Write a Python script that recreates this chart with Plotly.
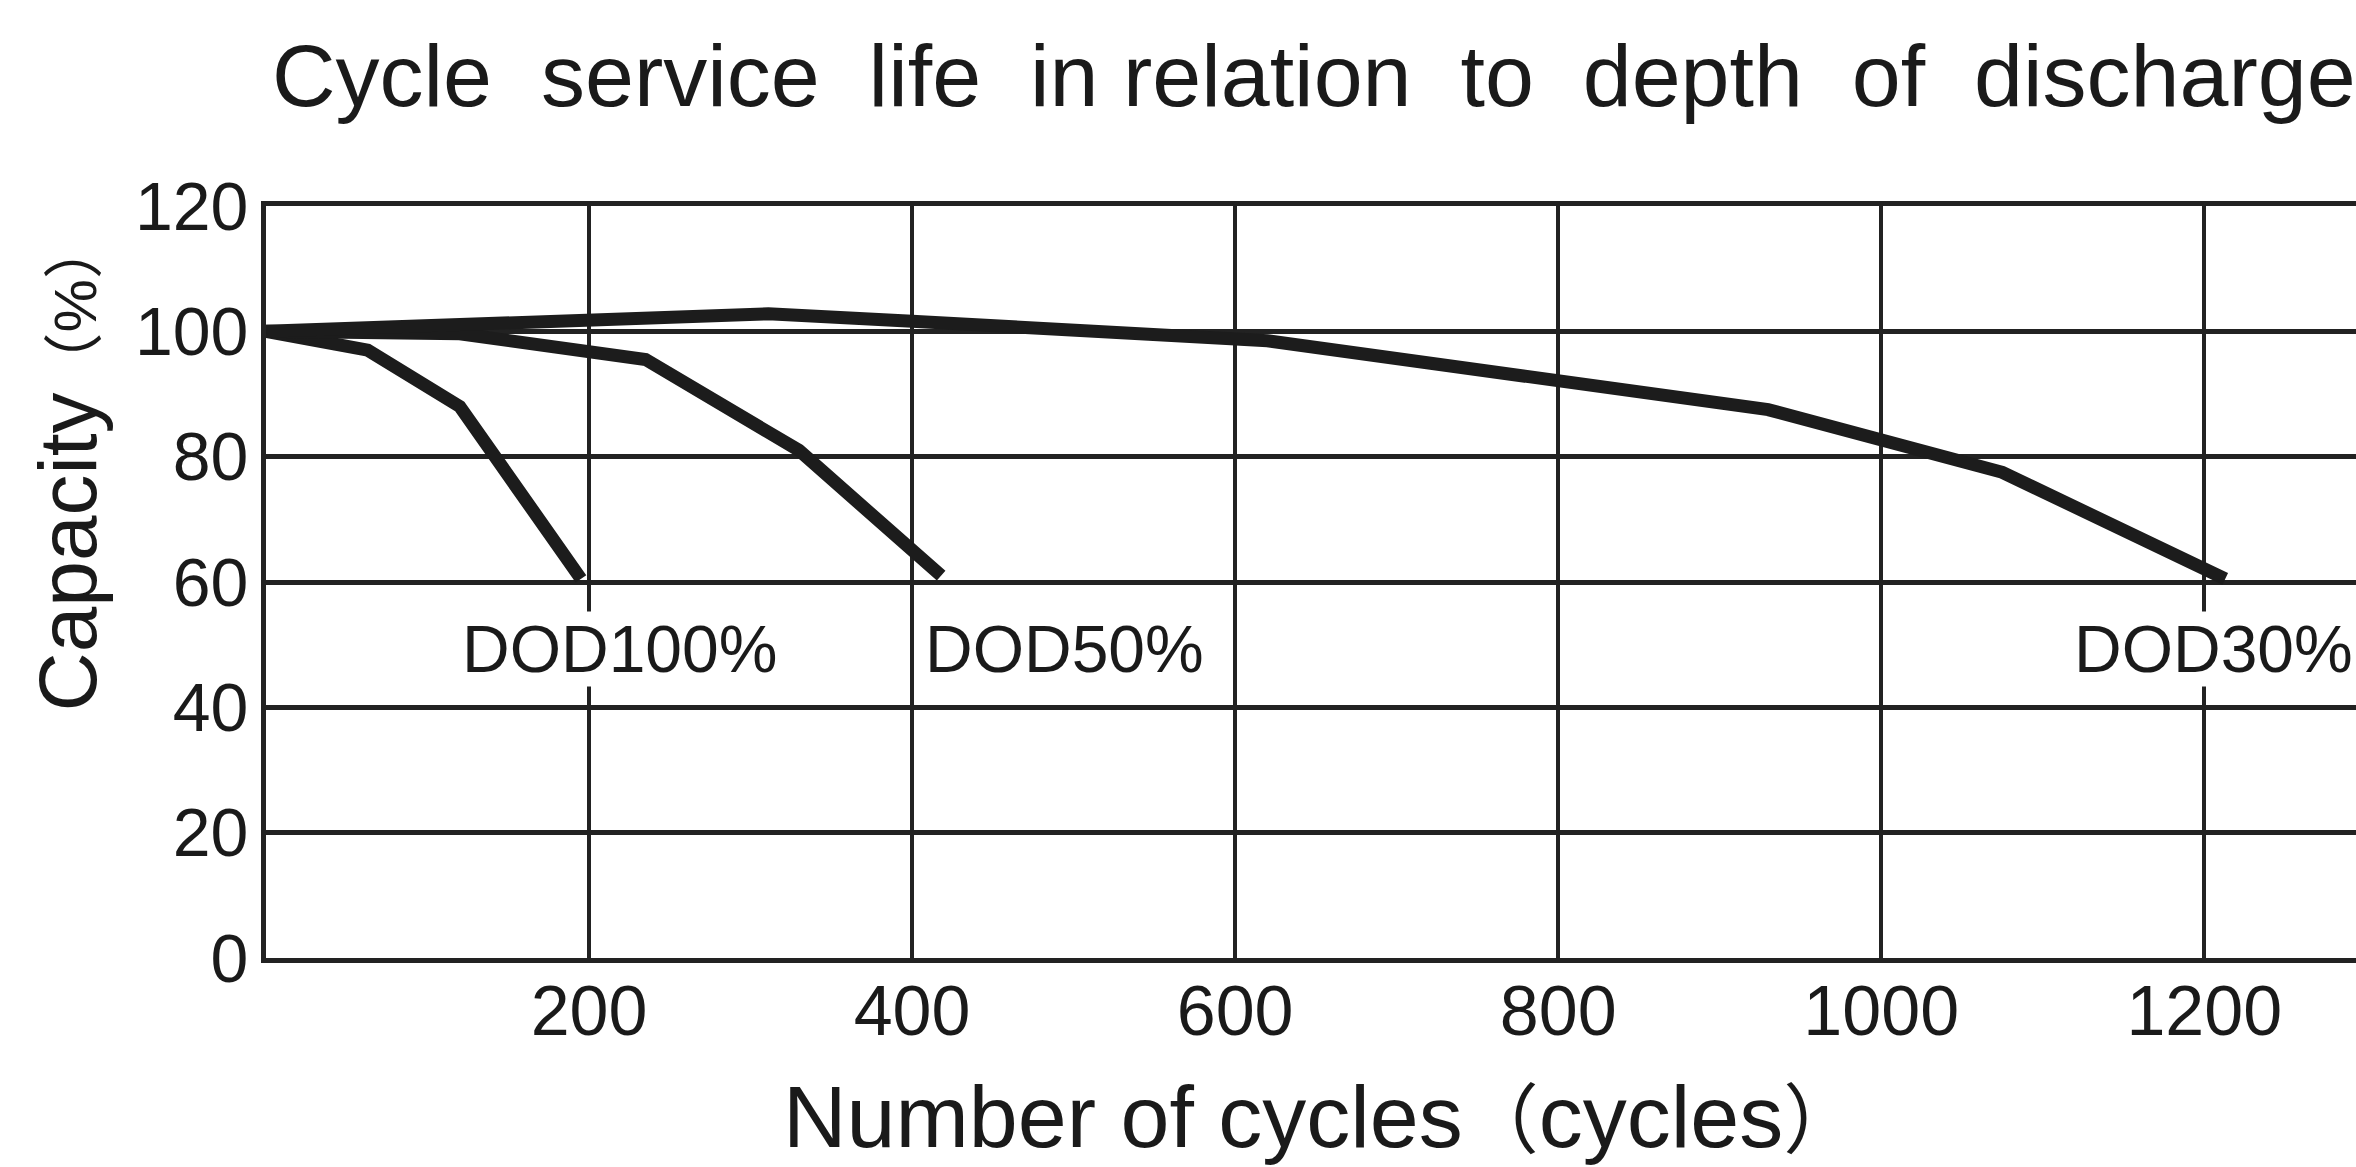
import plotly.graph_objects as go

# ---- data ----
dod100_cycles = [0, 63, 120, 195]
dod100_capacity = [100, 97, 88, 60.5]

dod50_cycles = [0, 120, 235, 330, 418]
dod50_capacity = [100, 99.6, 95.5, 81, 61]

dod30_cycles = [0, 311, 400, 620, 930, 1075, 1213]
dod30_capacity = [100, 102.8, 101.6, 98.5, 87.5, 77.5, 60.5]

x_ticks = [200, 400, 600, 800, 1000, 1200]
y_ticks = [0, 20, 40, 60, 80, 100, 120]

labels = ["DOD100%", "DOD50%", "DOD30%"]
label_x = [218.6, 494.1, 1205.5]
label_y = [49.3, 49.3, 49.3]

title_text = "Cycle\u00a0\u00a0service\u00a0\u00a0life\u00a0\u00a0in relation\u00a0\u00a0to\u00a0\u00a0depth\u00a0\u00a0of\u00a0\u00a0discharge"
x_title = "Number of cycles<span style='font-size:76px'>（</span>cycles<span style='font-size:76px'>）</span>"
y_title = "Capacity<span style='font-size:60px'>（%）</span>"

# ---- layout geometry (page pixels) ----
W, H = 2356, 1167
ML, MT, MB, MR = 266, 206, 209, 0
PW, PH = W - ML - MR, H - MT - MB
X_MAX = PW / 1.6152

def paper_x(fx):
    return (fx - ML) / PW

def paper_y(fy):
    return (H - MB - fy) / PH

FONT = "Liberation Sans, Arial, Helvetica, Noto Sans CJK SC, sans-serif"
INK = "#1a1a1a"
LINE = "#222222"

fig = go.Figure()
for xs, ys in [(dod100_cycles, dod100_capacity),
               (dod50_cycles, dod50_capacity),
               (dod30_cycles, dod30_capacity)]:
    fig.add_trace(go.Scatter(x=xs, y=ys, mode="lines",
                             line=dict(color="#1c1c1c", width=13),
                             showlegend=False, hoverinfo="skip"))

fig.update_xaxes(range=[0, X_MAX], tickvals=x_ticks, ticktext=[str(v) for v in x_ticks],
                 showgrid=True, gridcolor=LINE, gridwidth=3.5,
                 showline=True, linecolor=LINE, linewidth=5, mirror=True,
                 zeroline=False, ticks="", tickfont=dict(size=70, color=INK, family=FONT),
                 ticklabelstandoff=-12)
fig.update_yaxes(range=[0, 120], tickvals=y_ticks, ticktext=[str(v) for v in y_ticks],
                 showgrid=True, gridcolor=LINE, gridwidth=5,
                 showline=True, linecolor=LINE, linewidth=5, mirror=False,
                 zeroline=False, ticks="", tickfont=dict(size=68, color=INK, family=FONT),
                 ticklabelstandoff=-1)

annotations = []
for t, lx, ly in zip(labels, label_x, label_y):
    annotations.append(dict(x=lx, y=ly, xref="x", yref="y", text=t, showarrow=False,
                            font=dict(size=66, color=INK, family=FONT),
                            bgcolor="white", borderpad=0,
                            xanchor="center", yanchor="middle"))

annotations.append(dict(x=paper_x(270), y=paper_y(75.5), xref="paper", yref="paper",
                        text=title_text, showarrow=False, xanchor="left", yanchor="middle",
                        font=dict(size=88, color=INK, family=FONT)))
annotations.append(dict(x=paper_x(1321), y=paper_y(1116), xref="paper", yref="paper",
                        text=x_title, showarrow=False, xanchor="center", yanchor="middle",
                        font=dict(size=88, color=INK, family=FONT)))
annotations.append(dict(x=paper_x(66.5), y=paper_y(466), xref="paper", yref="paper",
                        text=y_title, showarrow=False, xanchor="center", yanchor="middle",
                        textangle=-90,
                        font=dict(size=82, color=INK, family=FONT)))

fig.update_layout(width=W, height=H,
                  margin=dict(l=ML, r=MR, t=MT, b=MB, pad=0),
                  paper_bgcolor="white", plot_bgcolor="white",
                  annotations=annotations, font=dict(family=FONT, color=INK))

fig.write_html("out.html",
               config={"displayModeBar": False},
               post_script="document.body.style.margin='0';document.body.style.overflow='hidden';")
